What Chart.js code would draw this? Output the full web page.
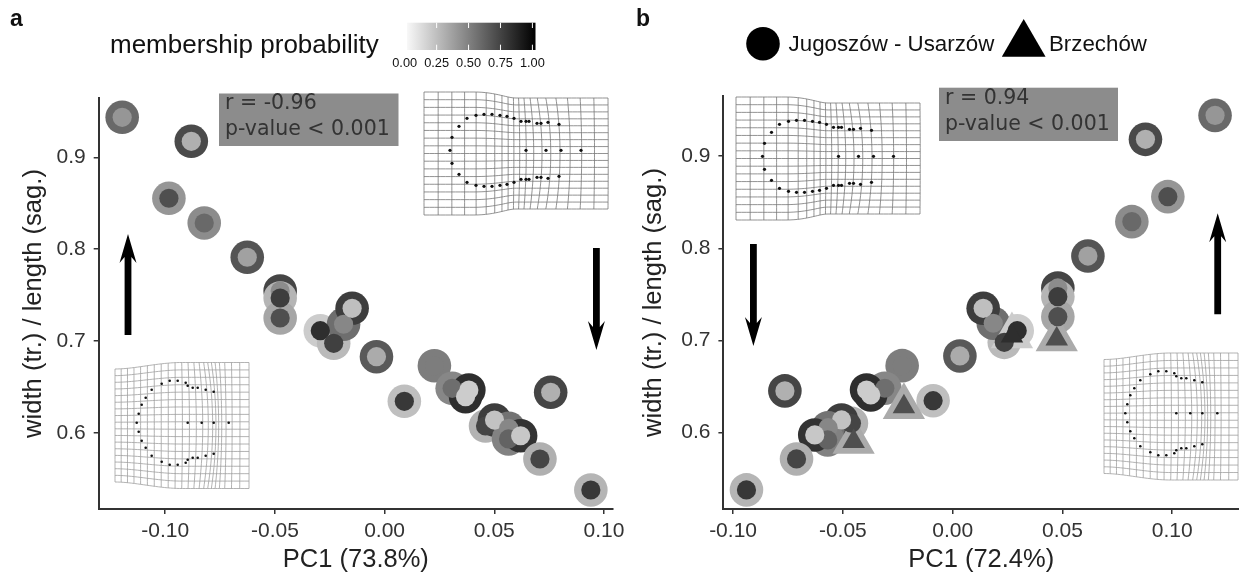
<!DOCTYPE html>
<html>
<head>
<meta charset="utf-8">
<title>PC1 vs width / length</title>
<script src="https://cdn.jsdelivr.net/npm/chart.js@4"></script>
<style>
  html, body { margin: 0; padding: 0; background: #fff; width: 1239px; height: 575px; overflow: hidden; }
  canvas { position: absolute; top: 0; }
  #panelA { left: 0; }
  #panelB { left: 620px; }
</style>
</head>
<body>
<!-- both canvases run 30px past the plot: room for the last tick label, panel b is cut by the window -->
<canvas id="panelA" width="643" height="575"></canvas>
<canvas id="panelB" width="649" height="575"></canvas>
<script>
// tick values
var xTicks = [-0.10, -0.05, 0.00, 0.05, 0.10];
var yTicks = [0.6, 0.7, 0.8, 0.9];

// panel a
var pc1A = [-0.1196, -0.0881, -0.0983, -0.0822, -0.0626, -0.0476, -0.0476, -0.0476, -0.0293, -0.0232, -0.0187, -0.0148, -0.0037,
  0.0090, 0.0227, 0.0308, 0.0384, 0.0369, 0.0460, 0.0501, 0.0566, 0.0565, 0.0620, 0.0708, 0.0757, 0.0940];
var ratioA = [0.9435, 0.9174, 0.8554, 0.8285, 0.7912, 0.7545, 0.7469, 0.7251, 0.7113, 0.6976, 0.7183, 0.7357, 0.6830,
  0.6345, 0.6732, 0.6486, 0.6468, 0.6395, 0.6076, 0.6141, 0.6051, 0.5935, 0.5970, 0.5717, 0.6443, 0.5380];
var ringProbA = [0.59, 0.71, 0.41, 0.45, 0.67, 0.73, 0.29, 0.35, 0.20, 0.27, 0.57, 0.76, 0.65,
  0.25, 0.51, 0.47, 0.82, 0.82, 0.30, 0.76, 0.55, 0.49, 0.80, 0.31, 0.73, 0.29];
var coreProbA = [0.41, 0.31, 0.69, 0.59, 0.37, 0.45, 0.76, 0.69, 0.82, 0.75, 0.47, 0.25, 0.33,
  0.78, 0.51, 0.57, 0.20, 0.20, 0.73, 0.24, 0.47, 0.61, 0.22, 0.73, 0.31, 0.78];

// panel b (last four are the Brzechów triangles)
var pc1B = [0.1195, 0.0878, 0.0980, 0.0816, 0.0616, 0.0479, 0.0479, 0.0479, 0.0294, 0.0235, 0.0185, 0.0139, 0.0033,
  -0.0089, -0.0230, -0.0309, -0.0392, -0.0373, -0.0461, -0.0506, -0.0567, -0.0569, -0.0628, -0.0711, -0.0764, -0.0939,
  -0.0451, -0.0222, 0.0270, 0.0474];
var ratioB = [0.9442, 0.9182, 0.8560, 0.8289, 0.7916, 0.7570, 0.7475, 0.7258, 0.7106, 0.6980, 0.7187, 0.7349, 0.6832,
  0.6347, 0.6727, 0.6482, 0.6463, 0.6409, 0.6102, 0.6138, 0.6054, 0.5921, 0.5975, 0.5715, 0.6453, 0.5379,
  0.5904, 0.6281, 0.7049, 0.7016];
var ringProbB = [0.59, 0.71, 0.41, 0.45, 0.67, 0.73, 0.29, 0.35, 0.20, 0.27, 0.57, 0.76, 0.65,
  0.25, 0.51, 0.47, 0.82, 0.82, 0.30, 0.76, 0.55, 0.49, 0.80, 0.31, 0.73, 0.29,
  0.33, 0.33, 0.20, 0.33];
var coreProbB = [0.41, 0.31, 0.69, 0.59, 0.37, 0.45, 0.76, 0.69, 0.82, 0.75, 0.47, 0.25, 0.33,
  0.78, 0.51, 0.57, 0.20, 0.20, 0.73, 0.24, 0.47, 0.61, 0.22, 0.73, 0.31, 0.78,
  0.69, 0.69, 0.82, 0.69];
var siteB = ['J', 'J', 'J', 'J', 'J', 'J', 'J', 'J', 'J', 'J', 'J', 'J', 'J',
  'J', 'J', 'J', 'J', 'J', 'J', 'J', 'J', 'J', 'J', 'J', 'J', 'J',
  'B', 'B', 'B', 'B'];

var legendTicks = [0.00, 0.25, 0.50, 0.75, 1.00];
var siteNames = ['Jugoszów - Usarzów', 'Brzechów'];

var sans = "'Liberation Sans', Arial, sans-serif";

function probToGray(p) {
  var g = Math.round(255 * (1 - p));
  return 'rgb(' + g + ',' + g + ',' + g + ')';
}

function smooth(t) {
  t = Math.max(0, Math.min(1, t));
  return t * t * (3 - 2 * t);
}

// deformation grid, built from a box and a warp
function drawGrid(ctx, g) {
  function pos(u, v) {
    var s = g.space(u);
    var hh = g.hLeft + (g.hRight - g.hLeft) * smooth((u - g.neck0) / (g.neck1 - g.neck0));
    var t = 2 * v - 1;
    var x = g.x + g.w * s + g.bow * Math.exp(-Math.pow((u - g.bowAt) / 0.16, 2)) * (1 - t * t);
    return [x, g.cy + hh * t];
  }
  ctx.strokeStyle = g.color;
  ctx.lineWidth = g.lw;
  var i, k, p;
  for (i = 0; i < g.nx; i++) {
    ctx.beginPath();
    for (k = 0; k <= 30; k++) {
      p = pos(i / (g.nx - 1), k / 30);
      if (k === 0) ctx.moveTo(p[0], p[1]); else ctx.lineTo(p[0], p[1]);
    }
    ctx.stroke();
  }
  for (i = 0; i < g.ny; i++) {
    ctx.beginPath();
    for (k = 0; k <= 50; k++) {
      p = pos(k / 50, i / (g.ny - 1));
      if (k === 0) ctx.moveTo(p[0], p[1]); else ctx.lineTo(p[0], p[1]);
    }
    ctx.stroke();
  }
  // landmarks
  ctx.fillStyle = '#111';
  function dot(x, y) {
    ctx.beginPath();
    ctx.arc(x, y, g.dotR, 0, Math.PI * 2);
    ctx.fill();
  }
  g.outline.forEach(function (o) {
    dot(g.ox + o[0], g.oy - o[1]);
    if (o[1] !== 0) dot(g.ox + o[0], g.oy + o[1]);
  });
  g.mid.forEach(function (dx) { dot(g.ox + dx, g.oy); });
}

var outlineThin = [[0, 0], [2, 13], [9, 24], [17, 32], [26, 35], [34, 36], [42, 36], [50, 35], [57, 34], [64, 32], [71, 29],
  [76, 29], [79, 29], [87, 27], [91, 27], [98, 28], [109, 26]];
var midThin = [76, 96, 111, 131];
var outlineWide = [[0, 0], [2, 9], [5, 18], [9, 25], [15, 33], [25, 39], [33, 42], [41, 42], [49, 40], [51, 37], [56, 35],
  [61, 35], [69, 33], [77, 31]];
var midWide = [51, 65, 77, 92];

function spaceTop(u) { return u + 0.075 * Math.sin(2 * Math.PI * u); }
function spaceLow(u) { return u + 0.045 * Math.sin(2 * Math.PI * u * u); }

function drawArrow(ctx, x, tip, tail, dir) {
  // dir -1 points up, 1 points down
  ctx.fillStyle = '#000';
  ctx.beginPath();
  ctx.moveTo(x, tip);
  ctx.lineTo(x + 8.5, tip - dir * 29);
  ctx.lineTo(x + 3.4, tip - dir * 23);
  ctx.lineTo(x + 3.4, tail);
  ctx.lineTo(x - 3.4, tail);
  ctx.lineTo(x - 3.4, tip - dir * 23);
  ctx.lineTo(x - 8.5, tip - dir * 29);
  ctx.closePath();
  ctx.fill();
}

function drawNote(ctx, x, y, w, h, lines, tx, ty) {
  ctx.fillStyle = '#8c8c8c';
  ctx.fillRect(x, y, w, h);
  ctx.fillStyle = '#333';
  ctx.font = "20.5px 'DejaVu Sans', sans-serif";
  ctx.textAlign = 'left';
  ctx.textBaseline = 'middle';
  ctx.fillText(lines[0], tx, ty[0]);
  ctx.fillText(lines[1], tx, ty[1]);
}

function label(ctx, text, x, y, font, align) {
  ctx.fillStyle = '#111';
  ctx.font = font;
  ctx.textAlign = align || 'left';
  ctx.textBaseline = 'middle';
  ctx.fillText(text, x, y);
}

// behind the points: insets, arrows, legends. Page coordinates, hence the translate.
var extrasA = {
  id: 'extrasA',
  beforeDatasetsDraw: function (chart) {
    var ctx = chart.ctx;
    ctx.save();
    drawGrid(ctx, { x: 424, w: 184, cy: 153.5, hLeft: 61.5, hRight: 55.5, neck0: 0.2, neck1: 0.5, nx: 20, ny: 17,
      space: spaceTop, bow: 5, bowAt: 0.72, color: '#777', lw: 0.8, dotR: 1.6, ox: 450, oy: 150.3, outline: outlineThin, mid: midThin });
    drawGrid(ctx, { x: 115, w: 134, cy: 425.5, hLeft: 56.5, hRight: 63, neck0: 0, neck1: 0.45, nx: 23, ny: 18,
      space: spaceLow, bow: 5, bowAt: 0.68, color: '#a0a0a0', lw: 0.8, dotR: 1.3, ox: 136.7, oy: 422.7, outline: outlineWide, mid: midWide });
    drawNote(ctx, 219, 93.5, 179.5, 52.5, ['r = -0.96', 'p-value < 0.001'], 225, [104, 130]);
    drawArrow(ctx, 128, 234, 335, -1);
    drawArrow(ctx, 596.4, 350, 248, 1);

    label(ctx, 'a', 10, 20, 'bold 23px ' + sans);
    label(ctx, 'membership probability', 110, 46, '26px ' + sans);

    // colour bar
    var grad = ctx.createLinearGradient(407, 0, 535.5, 0);
    grad.addColorStop(0, '#f8f8f8');
    grad.addColorStop(1, '#000');
    ctx.fillStyle = grad;
    ctx.fillRect(407, 22.7, 128.5, 27.3);
    ctx.strokeStyle = '#fff';
    ctx.lineWidth = 1;
    legendTicks.forEach(function (v) {
      var x = 404.7 + v * 127.7;
      if (v > 0) {
        ctx.beginPath();
        ctx.moveTo(x, 22.7); ctx.lineTo(x, 28);
        ctx.moveTo(x, 44.7); ctx.lineTo(x, 50);
        ctx.stroke();
      }
      label(ctx, v.toFixed(2), x, 63, '12.8px ' + sans, 'center');
    });
    ctx.restore();
  }
};

var extrasB = {
  id: 'extrasB',
  beforeDatasetsDraw: function (chart) {
    var ctx = chart.ctx;
    ctx.save();
    ctx.translate(-620, 0);
    drawGrid(ctx, { x: 736, w: 184, cy: 158.5, hLeft: 61.5, hRight: 55.5, neck0: 0.2, neck1: 0.5, nx: 20, ny: 17,
      space: spaceTop, bow: 5, bowAt: 0.72, color: '#777', lw: 0.8, dotR: 1.6, ox: 762.5, oy: 156.3, outline: outlineThin, mid: midThin });
    drawGrid(ctx, { x: 1104, w: 134, cy: 416.5, hLeft: 57, hRight: 63.5, neck0: 0, neck1: 0.45, nx: 23, ny: 18,
      space: spaceLow, bow: 5, bowAt: 0.68, color: '#a0a0a0', lw: 0.8, dotR: 1.3, ox: 1125.3, oy: 413.3, outline: outlineWide, mid: midWide });
    drawNote(ctx, 939, 87.7, 179, 53.3, ['r = 0.94', 'p-value < 0.001'], 945, [99, 125]);
    drawArrow(ctx, 753.4, 346, 244, 1);
    drawArrow(ctx, 1217.7, 213.3, 314.3, -1);

    label(ctx, 'b', 636, 20, 'bold 23px ' + sans);

    // site legend
    ctx.fillStyle = '#000';
    ctx.beginPath();
    ctx.arc(763, 43.7, 16.8, 0, Math.PI * 2);
    ctx.fill();
    ctx.beginPath();
    ctx.moveTo(1023.7, 19);
    ctx.lineTo(1045.6, 56.7);
    ctx.lineTo(1001.8, 56.7);
    ctx.closePath();
    ctx.fill();
    label(ctx, siteNames[0], 788.6, 44.5, '22.3px ' + sans);
    label(ctx, siteNames[1], 1049, 44.5, '22.3px ' + sans);
    ctx.restore();
  }
};

function makePanel(id, xs, ys, ringProb, coreProb, sites, opt) {
  var pts = xs.map(function (x, i) { return { x: x, y: ys[i] }; });
  var isTri = function (i) { return sites && sites[i] === 'B'; };
  var style = xs.map(function (x, i) { return isTri(i) ? 'triangle' : 'circle'; });
  return new Chart(document.getElementById(id), {
    type: 'scatter',
    data: {
      // first dataset ends up on top
      datasets: [{
        data: pts,
        pointStyle: style,
        pointRadius: xs.map(function (x, i) { return isTri(i) ? 13 : 9.6; }),
        pointBackgroundColor: coreProb.map(probToGray),
        pointBorderWidth: 0,
        clip: false
      }, {
        data: pts,
        pointStyle: style,
        pointRadius: xs.map(function (x, i) { return isTri(i) ? 24.4 : 16.8; }),
        pointBackgroundColor: ringProb.map(probToGray),
        pointBorderWidth: 0,
        clip: false
      }]
    },
    plugins: [opt.extras],
    options: {
      responsive: false,
      animation: false,
      layout: { padding: { top: opt.top, right: 30, left: 0, bottom: 0 } },
      plugins: { legend: { display: false }, tooltip: { enabled: false } },
      scales: {
        x: {
          type: 'linear',
          min: opt.xMin,
          max: opt.xMax,
          afterBuildTicks: function (s) { s.ticks = xTicks.map(function (v) { return { value: v }; }); },
          afterFit: function (s) { s.height = 66; },
          border: { display: true, color: '#333', width: 2 },
          grid: { display: true, drawOnChartArea: false, drawTicks: true, tickLength: 5, color: '#333', lineWidth: 1.5 },
          ticks: {
            autoSkip: false, maxRotation: 0, padding: 5, color: '#333',
            font: { family: sans, size: 21 },
            callback: function (v) { return Number(v).toFixed(2); }
          },
          title: { display: true, text: opt.xTitle, color: '#222', font: { family: sans, size: 25.5 }, padding: { top: 5, bottom: 0 } }
        },
        y: {
          type: 'linear',
          min: opt.yMin,
          max: opt.yMax,
          afterBuildTicks: function (s) { s.ticks = yTicks.map(function (v) { return { value: v }; }); },
          afterFit: function (s) { s.width = opt.left; },
          border: { display: true, color: '#333', width: 2 },
          grid: { display: true, drawOnChartArea: false, drawTicks: true, tickLength: 5, color: '#333', lineWidth: 1.5 },
          ticks: {
            autoSkip: false, padding: 8, color: '#333',
            font: { family: sans, size: 21 },
            callback: function (v) { return Number(v).toFixed(1); }
          },
          title: { display: true, text: 'width (tr.) / length (sag.)', color: '#222', font: { family: sans, size: 25.6 }, padding: { top: 19, bottom: 0 } }
        }
      }
    }
  });
}

makePanel('panelA', pc1A, ratioA, ringProbA, coreProbA, null, {
  extras: extrasA, xTitle: 'PC1 (73.8%)', left: 98.7, top: 98,
  xMin: -0.1303, xMax: 0.1041, yMin: 0.5173, yMax: 0.9645
});
makePanel('panelB', pc1B, ratioB, ringProbB, coreProbB, siteB, {
  extras: extrasB, xTitle: 'PC1 (72.4%)', left: 103.4, top: 96,
  xMin: -0.1044, xMax: 0.1304, yMin: 0.5172, yMax: 0.9652
});
</script>
</body>
</html>
